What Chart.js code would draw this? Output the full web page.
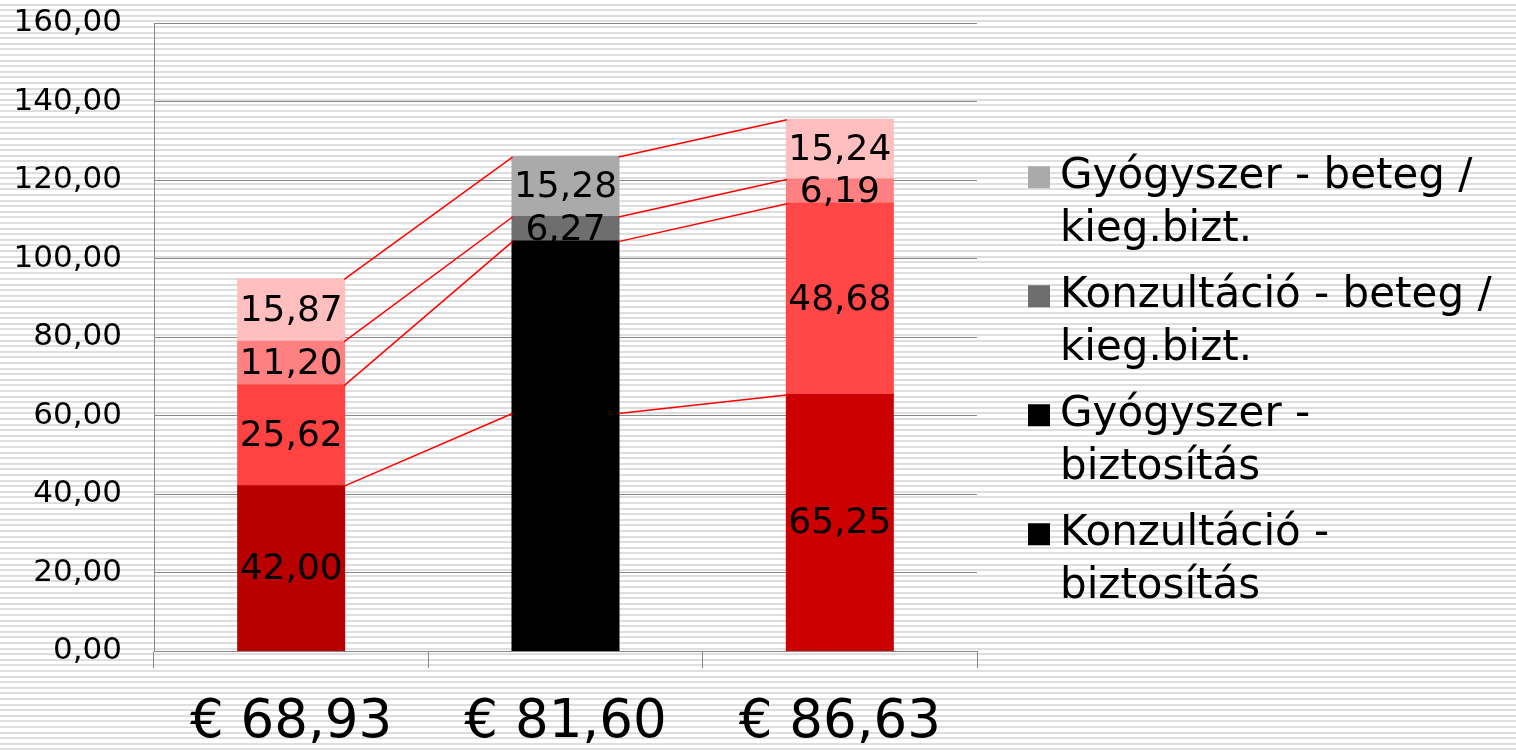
<!DOCTYPE html>
<html>
<head>
<meta charset="utf-8">
<title>Költségek</title>
<script src="https://cdn.jsdelivr.net/npm/chart.js@4.4.1/dist/chart.umd.min.js"></script>
<style>
  html, body { margin: 0; padding: 0; }
  body {
    width: 1516px; height: 750px; overflow: hidden;
    /* csíkos háttér, mint az eredeti diagramon */
    background: repeating-linear-gradient(to bottom, #ffffff 0px, #ffffff 3.6px, #dedede 3.6px, #dedede 5.6px);
  }
  #wrap { position: relative; width: 1516px; height: 750px; }
</style>
</head>
<body>
<div id="wrap"><canvas id="chart" width="1516" height="750"></canvas></div>
<script>
// ---- adatok ----
const categories = ['€ 68,93', '€ 81,60', '€ 86,63'];

const konzultacioBiztositas = [42.00, 60.50, 65.25];
const gyogyszerBiztositas = [25.62, 43.80, 48.68];
const konzultacioBeteg = [11.20, 6.27, 6.19];
const gyogyszerBeteg = [15.87, 15.28, 15.24];

const seriesNames = [
  ['Konzultáció -', 'biztosítás'],
  ['Gyógyszer -', 'biztosítás'],
  ['Konzultáció - beteg /', 'kieg.bizt.'],
  ['Gyógyszer - beteg /', 'kieg.bizt.']
];

const yTickLabels = ['0,00', '20,00', '40,00', '60,00', '80,00', '100,00', '120,00', '140,00', '160,00'];

const FONT = '"DejaVu Sans", Verdana, sans-serif';
const fmt = (v) => v.toFixed(2).replace('.', ',');

// ---- összekötő vonalak az oszlopok között ----
const seriesLinesPlugin = {
  id: 'seriesLines',
  afterDatasetsDraw(chart) {
    const ctx = chart.ctx;
    ctx.save();
    ctx.strokeStyle = '#ff0000';
    ctx.lineWidth = 1.5;
    chart.data.datasets.forEach((ds, di) => {
      const bars = chart.getDatasetMeta(di).data;
      for (let i = 0; i < bars.length - 1; i++) {
        const a = bars[i], b = bars[i + 1];
        ctx.beginPath();
        ctx.moveTo(a.x + a.width / 2, a.y);
        ctx.lineTo(b.x - b.width / 2, b.y);
        ctx.stroke();
      }
    });
    ctx.restore();
  }
};

// ---- értékcímkék a szegmensek közepén ----
const valueLabelsPlugin = {
  id: 'valueLabels',
  afterDatasetsDraw(chart) {
    const ctx = chart.ctx;
    ctx.save();
    ctx.font = '36px ' + FONT;
    ctx.fillStyle = '#000';
    ctx.textAlign = 'center';
    ctx.textBaseline = 'middle';
    chart.data.datasets.forEach((ds, di) => {
      chart.getDatasetMeta(di).data.forEach((bar, i) => {
        ctx.fillText(fmt(ds.data[i]), bar.x, (bar.y + bar.base) / 2 + 1);
      });
    });
    ctx.restore();
  }
};

// ---- jelmagyarázat jobb oldalon (fordított sorrend) ----
const sideLegendPlugin = {
  id: 'sideLegend',
  afterDraw(chart) {
    const ctx = chart.ctx;
    const boxX = chart.chartArea.right + 51;
    const textX = chart.chartArea.right + 83;
    const box = 22, lineH = 52.5, gap = 14;
    const items = chart.data.datasets.map((ds, i) => ({ lines: seriesNames[i], color: ds.legendColor })).reverse();
    const total = items.reduce((s, it) => s + it.lines.length * lineH, 0) + gap * (items.length - 1);
    let y = (chart.height - total) / 2 + 7 + lineH / 2;
    ctx.save();
    ctx.font = '42px ' + FONT;
    ctx.textAlign = 'left';
    ctx.textBaseline = 'middle';
    items.forEach((it) => {
      ctx.fillStyle = it.color;
      ctx.fillRect(boxX, y - box / 2, box, box);
      ctx.fillStyle = '#000';
      it.lines.forEach((ln, k) => ctx.fillText(ln, textX, y + k * lineH));
      y += it.lines.length * lineH + gap;
    });
    ctx.restore();
  }
};

Chart.defaults.font.family = FONT;
Chart.defaults.color = '#000';

const ctx = document.getElementById('chart');
new Chart(ctx, {
  type: 'bar',
  data: {
    labels: categories,
    datasets: [
      { label: seriesNames[0].join(' '), data: konzultacioBiztositas, backgroundColor: ['#b80000', '#000000', '#cc0000'], legendColor: '#000000' },
      { label: seriesNames[1].join(' '), data: gyogyszerBiztositas, backgroundColor: ['#ff4343', '#000000', '#ff4747'], legendColor: '#000000' },
      { label: seriesNames[2].join(' '), data: konzultacioBeteg, backgroundColor: ['#ff8080', '#6e6e6e', '#ff8080'], legendColor: '#6e6e6e' },
      { label: seriesNames[3].join(' '), data: gyogyszerBeteg, backgroundColor: ['#ffbfbf', '#aaaaaa', '#ffbfbf'], legendColor: '#aaaaaa' }
    ]
  },
  options: {
    responsive: false,
    animation: false,
    devicePixelRatio: 1,
    layout: { padding: { top: 23, right: 539, left: 0, bottom: 0 } },
    datasets: { bar: { categoryPercentage: 1, barPercentage: 0.3864, borderWidth: 0, inflateAmount: 1 } },
    plugins: { legend: { display: false }, tooltip: { enabled: false } },
    scales: {
      x: {
        stacked: true,
        offset: true,
        grid: { offset: true, drawOnChartArea: false, drawTicks: true, tickLength: 17, color: '#888888' },
        border: { display: true, color: '#888888' },
        ticks: { font: { size: 53 }, padding: 23, maxRotation: 0 },
        afterFit: (s) => { s.height = 99; }
      },
      y: {
        stacked: true,
        min: 0,
        max: 160,
        // láthatatlan tick-jelek adják a címkék és a tengely közti rést
        grid: { drawTicks: true, tickLength: 32, tickColor: 'rgba(0,0,0,0)', color: '#888888' },
        border: { display: true, color: '#888888' },
        ticks: {
          stepSize: 20,
          padding: 0,
          font: { size: 31 },
          callback: (v) => yTickLabels[Math.round(v / 20)]
        },
        afterFit: (s) => { s.width = 154; }
      }
    }
  },
  plugins: [seriesLinesPlugin, valueLabelsPlugin, sideLegendPlugin]
});
</script>
</body>
</html>
